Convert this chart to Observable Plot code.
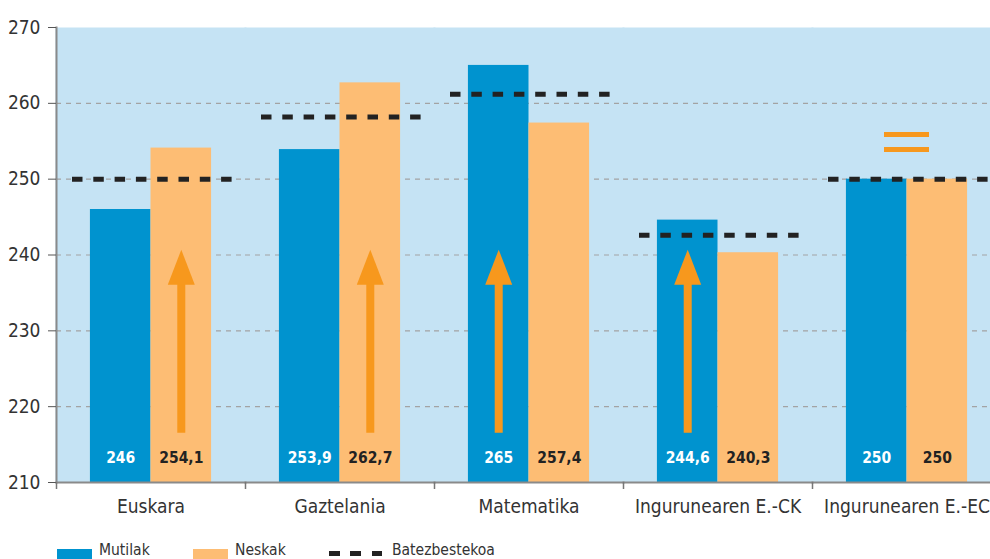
<!DOCTYPE html>
<html>
<head>
<meta charset="utf-8">
<script src="https://cdn.jsdelivr.net/npm/d3@7"></script>
<script src="https://cdn.jsdelivr.net/npm/@observablehq/plot@0.6"></script>
<style>
  html, body { margin: 0; padding: 0; background: #fff; overflow: hidden; width: 990px; height: 559px; }
  #chart svg { overflow: hidden; }
  .legend { position: relative; height: 23px; font-family: "Liberation Sans Narrow", "DejaVu Sans Condensed", Roboto, sans-serif; font-size: 15.5px; color: #333; }
  .legend .item { position: absolute; top: 0; display: flex; align-items: center; height: 23px; }
  .legend .sw { width: 35px; height: 12px; margin-right: 7px; margin-top: 14px; }
  .legend .lbl { margin-top: 5px; line-height: 16px; }
  .legend .dash { width: 56px; height: 5px; margin-right: 7px; margin-top: 12px;
    background: repeating-linear-gradient(90deg, #222 0 10.5px, transparent 10.5px 21.3px); }
</style>
</head>
<body>
<div id="chart"></div>
<div class="legend" id="legend"></div>
<script>
const categories = ["Euskara", "Gaztelania", "Matematika", "Ingurunearen E.-CK", "Ingurunearen E.-EC"];
const groups = ["Mutilak", "Neskak"];
const mutilak = [246, 253.9, 265, 244.6, 250];
const neskak = [254.1, 262.7, 257.4, 240.3, 250];
const batezbestekoa = [250, 258.2, 261.2, 242.6, 250];
const averageLabel = "Batezbestekoa";

// significant-difference arrows
const arrowCategories = ["Euskara", "Gaztelania", "Matematika", "Ingurunearen E.-CK"];
const arrowGroups = ["Neskak", "Neskak", "Mutilak", "Mutilak"];
const arrowBase = [216.5, 216.5, 216.5, 216.5];
const arrowHeadBase = [236.1, 236.1, 236.1, 236.1];
const arrowTip = [240.7, 240.7, 240.7, 240.7];

// "equal" sign
const equalCategory = "Ingurunearen E.-EC";
const equalLevels = [255.9, 253.9];

const yTicks = [210, 220, 230, 240, 250, 260, 270];
const gridTicks = [220, 230, 240, 250, 260];

const BLUE = "#0093cf", PEACH = "#fdbd74", BG = "#c5e3f4", ORANGE = "#f7981d", DARK = "#222";
const FONT = '"Liberation Sans Narrow", "DejaVu Sans Condensed", Roboto, sans-serif';

const bars = [];
categories.forEach((c, i) => {
  bars.push({cat: c, group: groups[0], value: mutilak[i]});
  bars.push({cat: c, group: groups[1], value: neskak[i]});
});
const avgs = categories.map((c, i) => ({cat: c, avg: batezbestekoa[i]}));
const arrows = arrowCategories.map((c, i) => ({cat: c, group: arrowGroups[i], y1: arrowBase[i], y2: arrowHeadBase[i], tip: arrowTip[i]}));
const equals = equalLevels.map(v => ({cat: equalCategory, y: v}));

const fmt = v => String(v).replace(".", ",");

const headSymbol = {
  draw(context) {
    context.moveTo(0, 0);
    context.lineTo(13.5, 35);
    context.lineTo(-13.5, 35);
    context.closePath();
  }
};

const chart = Plot.plot({
  width: 990,
  height: 536,
  marginTop: 27,
  marginBottom: 54,
  marginLeft: 56,
  marginRight: 0,
  style: {fontFamily: FONT, background: "transparent", overflow: "hidden"},
  fx: {domain: categories, padding: 0, range: [56, 1001], label: null},
  x: {domain: groups, paddingInner: 0, paddingOuter: 0.56, align: 0.5, round: false, axis: null},
  y: {domain: [210, 270], axis: null},
  marks: [
    Plot.frame({fill: BG, stroke: null, insetLeft: -1, insetRight: -1}),
    Plot.ruleY(gridTicks, {stroke: "#a3a3a3", strokeWidth: 1.2, strokeDasharray: "5,5"}),
    Plot.barY(bars, {fx: "cat", x: "group", y1: 210, y2: "value", fill: d => d.group === groups[0] ? BLUE : PEACH}),
    Plot.ruleY(avgs, {fx: "cat", y: "avg", stroke: DARK, strokeWidth: 5, strokeDasharray: "10.5,10.8", insetLeft: 16, insetRight: 13}),
    Plot.ruleY(equals, {fx: "cat", y: "y", stroke: ORANGE, strokeWidth: 5, insetLeft: 72, insetRight: 72}),
    Plot.ruleX(arrows, {fx: "cat", x: "group", y1: "y1", y2: "y2", stroke: ORANGE, strokeWidth: 8}),
    Plot.dot(arrows, {fx: "cat", x: "group", y: "tip", symbol: headSymbol, fill: ORANGE, stroke: null}),
    Plot.text(bars, {fx: "cat", x: "group", text: d => fmt(d.value), frameAnchor: "bottom", dy: -20,
      fill: d => d.group === groups[0] ? "#ffffff" : "#222", fontWeight: "bold", fontSize: 15.5}),
    Plot.frame({anchor: "bottom", stroke: "#8a8a8a", strokeWidth: 2}),
    Plot.frame({anchor: "left", facetAnchor: "left", stroke: "#8a8a8a", strokeWidth: 2}),
    Plot.axisY({ticks: yTicks, tickSize: 8, tickPadding: 8, fontSize: 19, stroke: "#555", fill: "#333", label: null}),
    Plot.axisFx({anchor: "bottom", tickSize: 0, tickPadding: 17, fontSize: 19, fill: "#333", label: null}),
    Plot.axisFx({anchor: "bottom", tickSize: 7, dx: -94.5, fill: "none", stroke: "#777", strokeWidth: 1.5, label: null})
  ]
});
document.getElementById("chart").appendChild(chart);

const legend = document.getElementById("legend");
legend.innerHTML = `
  <div class="item" style="left:57px"><div class="sw" style="background:${BLUE}"></div><span class="lbl">${groups[0]}</span></div>
  <div class="item" style="left:193px"><div class="sw" style="background:${PEACH}"></div><span class="lbl">${groups[1]}</span></div>
  <div class="item" style="left:329px"><div class="dash"></div><span class="lbl">${averageLabel}</span></div>`;
</script>
</body>
</html>
